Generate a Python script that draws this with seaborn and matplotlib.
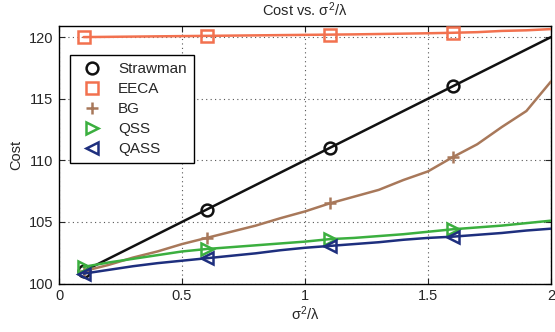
import numpy as np
import pandas as pd
import matplotlib
matplotlib.use("Agg")
import matplotlib.pyplot as plt
from matplotlib.lines import Line2D
import seaborn as sns

# sigma^2 / lambda sample points
x_vals = [0.1, 0.2, 0.3, 0.4, 0.5, 0.6, 0.7, 0.8, 0.9, 1.0,
          1.1, 1.2, 1.3, 1.4, 1.5, 1.6, 1.7, 1.8, 1.9, 2.0]

strawman = [101.0, 102.0, 103.0, 104.0, 105.0, 106.0, 107.0, 108.0, 109.0, 110.0,
            111.0, 112.0, 113.0, 114.0, 115.0, 116.0, 117.0, 118.0, 119.0, 120.0]
eeca = [120.0, 120.02, 120.04, 120.06, 120.08, 120.1, 120.12, 120.14, 120.16, 120.18,
        120.2, 120.22, 120.25, 120.28, 120.31, 120.35, 120.4, 120.5, 120.55, 120.65]
bg = [101.0, 101.5, 102.1, 102.6, 103.2, 103.7, 104.2, 104.7, 105.3, 105.85,
      106.5, 107.05, 107.6, 108.4, 109.1, 110.25, 111.3, 112.7, 114.0, 116.4]
qss = [101.35, 101.7, 102.0, 102.3, 102.6, 102.8, 102.95, 103.1, 103.25, 103.4,
       103.6, 103.7, 103.85, 104.0, 104.2, 104.4, 104.55, 104.7, 104.9, 105.1]
qass = [100.8, 101.1, 101.4, 101.65, 101.85, 102.05, 102.25, 102.45, 102.7, 102.9,
        103.05, 103.2, 103.35, 103.55, 103.7, 103.8, 103.95, 104.1, 104.3, 104.45]

series_names = ["Strawman", "EECA", "BG", "QSS", "QASS"]
series_vals = [strawman, eeca, bg, qss, qass]
colors = ["#111111", "#F2714F", "#A8785A", "#3BAF3F", "#1E2F7E"]
markers = ["o", "s", "+", ">", "<"]

sns.set_style("ticks")
plt.rcParams["font.family"] = ["Liberation Sans", "DejaVu Sans"]

fig = plt.figure(figsize=(5.55, 3.32), dpi=100)
ax = fig.add_axes([59 / 555, 1 - 283.5 / 332, 492 / 555, 257.5 / 332])

df = pd.DataFrame({"x": x_vals})
for name, vals in zip(series_names, series_vals):
    df[name] = vals

for name, col, mk in zip(series_names, colors, markers):
    sns.lineplot(data=df, x="x", y=name, ax=ax, color=col, marker=mk,
                 markevery=[0, 5, 10, 15], markersize=8.5, markeredgewidth=1.8,
                 markerfacecolor="none", markeredgecolor=col,
                 linewidth=1.8, zorder=3)

ax.set_xlim(0, 2)
ax.set_ylim(100, 120.9)
ax.set_xticks([0, 0.5, 1, 1.5, 2])
ax.set_xticklabels(["0", "0.5", "1", "1.5", "2"])
ax.set_yticks([100, 105, 110, 115, 120])
ax.tick_params(direction="in", labelsize=10.5, length=4, top=True, right=True, pad=4)
ax.grid(True, linestyle=(0, (1, 3)), color="#555555", linewidth=0.8)
for sp in ax.spines.values():
    sp.set_linewidth(1.0)
    sp.set_color("black")

ax.set_title("Cost vs. $\\mathregular{\\sigma^2/\\lambda}$", fontsize=10.5, pad=7)
ax.set_xlabel("$\\mathregular{\\sigma^2/\\lambda}$", fontsize=10.5, labelpad=1)
ax.set_ylabel("Cost", fontsize=10.5, labelpad=4)

handles = [Line2D([], [], linestyle="none", marker=mk, color=col, markersize=8.5,
                  markeredgewidth=1.8, markerfacecolor="none")
           for col, mk in zip(colors, markers)]
leg = ax.legend(handles, series_names, loc="upper left",
                bbox_to_anchor=(11 / 492, 228.5 / 257.5), borderaxespad=0,
                fontsize=11, frameon=True,
                fancybox=False, edgecolor="black", framealpha=1,
                handletextpad=0.7, labelspacing=0.4, borderpad=0.45)
leg.get_frame().set_linewidth(1.0)

fig.savefig("out.png", dpi=100)
